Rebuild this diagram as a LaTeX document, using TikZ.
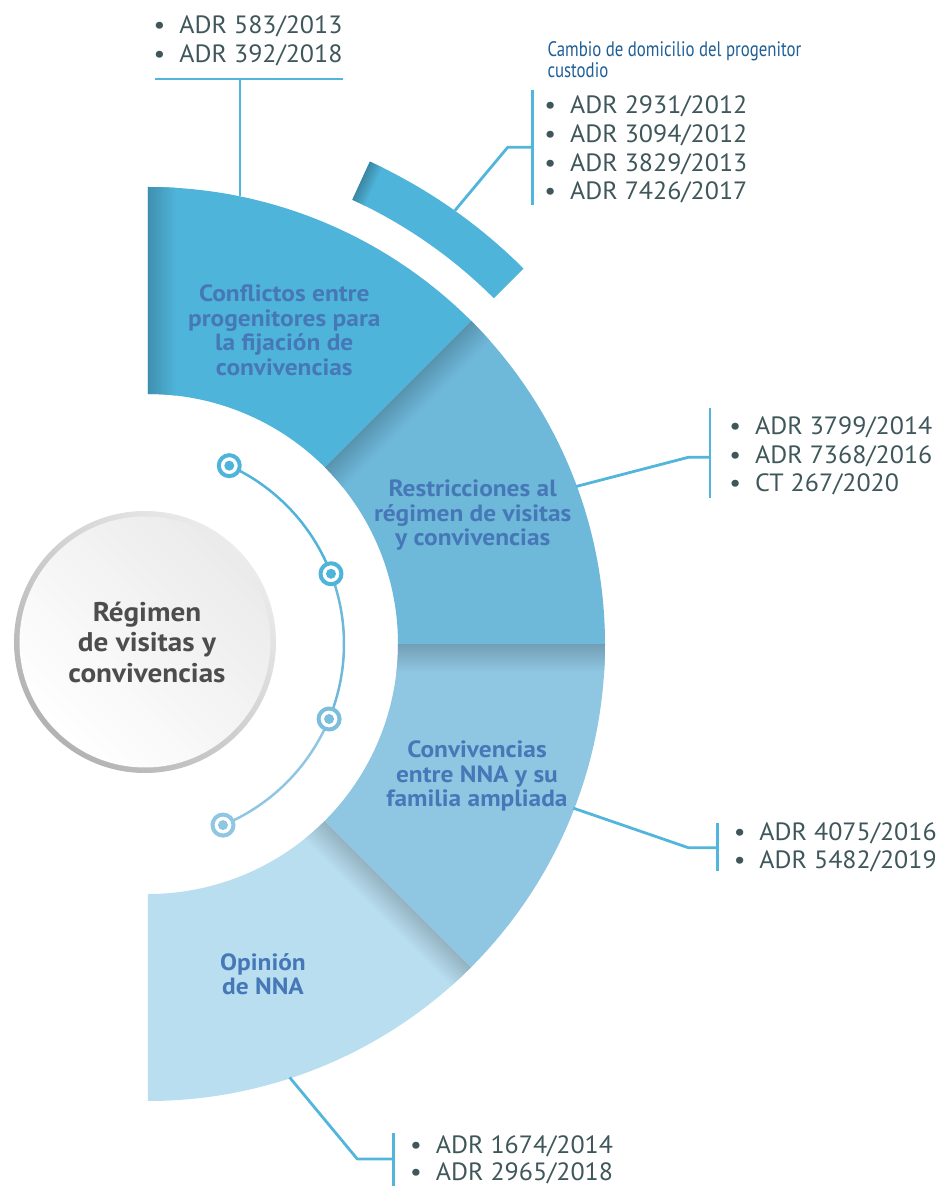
\documentclass[tikz,border=0pt]{standalone}
\usepackage{fontspec}
\setmainfont{PT Sans}[FakeStretch=1.04]
\newfontfamily\condensed[FakeStretch=0.8]{PT Sans}
\newfontfamily\widesans[FakeStretch=1.08]{PT Sans}
\usetikzlibrary{positioning}

\definecolor{blueA}{HTML}{4FB4DA}
\definecolor{blueB}{HTML}{6EB8DA}
\definecolor{blueC}{HTML}{8FC6E2}
\definecolor{blueD}{HTML}{B8DEF0}
\definecolor{labelblue}{HTML}{4678B8}
\definecolor{listgray}{HTML}{3F575B}
\definecolor{titleblue}{HTML}{1F5E96}
\definecolor{centergray}{HTML}{4D4D4D}
\definecolor{linkblue}{HTML}{52B5DB}

\newcommand{\bul}{\makebox[0pt][r]{\textbullet\hspace{14pt}}}

\begin{document}
\begin{tikzpicture}[x=1pt, y=1pt, line join=round]
	\tikzstyle{sector label}=[align=center, inner sep=0pt, text=labelblue,
		font=\widesans\bfseries\fontsize{23.5}{24.5}\selectfont]
	\tikzstyle{item}=[anchor=base west, inner sep=0pt, text=listgray,
		font=\fontsize{25}{28}\selectfont]
	\tikzstyle{link}=[draw=linkblue, line width=2.8pt]
	\tikzstyle{ring dot}=[circle, draw, fill=white, line width=4pt,
		minimum size=21pt, inner sep=0pt]
	\useasboundingbox (-148,-542) rectangle (787,644);

	% % Shapes
	% half ring, one sector per topic
	\foreach \a/\col in {90/blueA, 45/blueB, 0/blueC, -45/blueD} {
		\fill[\col] (\a:457) arc (\a:\a-45:457) -- (\a-45:250) arc (\a-45:\a:250) -- cycle;
		\begin{scope}
			\clip (\a:457) arc (\a:\a-45:457) -- (\a-45:250) arc (\a-45:\a:250) -- cycle;
			\begin{scope}[transform canvas={rotate=\a}]
				\shade[top color=\col!80!black, bottom color=\col] (240,-28) rectangle (470,0);
			\end{scope}
		\end{scope}
	}
	% thin outer band
	\fill[blueA] (65.3:531) arc (65.3:45:531) -- (45:489) arc (45:65.3:489) -- cycle;
	\begin{scope}
		\clip (65.3:531) arc (65.3:45:531) -- (45:489) arc (45:65.3:489) -- cycle;
		\begin{scope}[transform canvas={rotate=65.3}]
			\shade[top color=blueA!75!black, bottom color=blueA] (480,-14) rectangle (540,0);
		\end{scope}
	\end{scope}
	% inner arc with dots
	\draw[blueA, line width=2.5pt] (65.5:196) arc (65.5:21:196);
	\draw[blueB, line width=2.5pt] (21:196) arc (21:-22.5:196);
	\draw[blueC, line width=2.5pt] (-22.5:196) arc (-22.5:-67.5:196);
	\foreach \a/\col [count=\i] in {65.5/blueA, 21/blueA, -22.5/blueB!60!blueC, -67.5/blueC} {
		\node[ring dot, draw=\col] (dot\i) at (\a:196) {};
		\fill[\col] (dot\i) circle (5);
	}
	% centre disc
	\shade[top color=gray!15, bottom color=gray!60, shading angle=-45] (-3,2) circle (131);
	\shade[top color=gray!16, bottom color=white, shading angle=-45] (-3,2) circle (125.5);

	% % Nodes
	% centre
	\node[align=center, inner sep=0pt, text=centergray,
		font=\widesans\bfseries\fontsize{27}{30.5}\selectfont] (regimen) at (-1,2)
		{Régimen\\de visitas y\\convivencias};
	% sectors
	\node[sector label] (conflictos) at (136.3,313.5)
		{Conflictos entre\\progenitores para\\la fijación de\\convivencias};
	\node[sector label] (restricciones) at (324.7,128.5)
		{Restricciones al\\régimen de visitas\\y convivencias};
	\node[sector label] (ampliada) at (329,-132)
		{Convivencias\\entre NNA y su\\familia ampliada};
	\node[sector label] (opinion) at (115,-330)
		{Opinión\\de NNA};
	% band title
	\node[anchor=north west, inner sep=0pt, align=left, text=titleblue,
		font=\condensed\fontsize{21}{21.6}\selectfont] (cambio) at (399.3,603)
		{Cambio de domicilio del progenitor\\custodio};
	% lists
	\node[item] (top1) at (31.3,610.7) {\bul ADR 583/2013};
	\node[item] (top2) at (31.3,581) {\bul ADR 392/2018};
	\node[item] (band1) at (422,530.7) {\bul ADR 2931/2012};
	\node[item] (band2) at (422,501.8) {\bul ADR 3094/2012};
	\node[item] (band3) at (422,472.9) {\bul ADR 3829/2013};
	\node[item] (band4) at (422,444) {\bul ADR 7426/2017};
	\node[item] (restr1) at (607,209) {\bul ADR 3799/2014};
	\node[item] (restr2) at (607,180.7) {\bul ADR 7368/2016};
	\node[item] (restr3) at (607,152.3) {\bul CT 267/2020};
	\node[item] (ampl1) at (611.3,-196) {\bul ADR 4075/2016};
	\node[item] (ampl2) at (611.3,-224.3) {\bul ADR 5482/2019};
	\node[item] (opin1) at (287.7,-509.3) {\bul ADR 1674/2014};
	\node[item] (opin2) at (287.7,-536) {\bul ADR 2965/2018};

	% % Connectors
	\coordinate (topfoot) at (92,448);
	\coordinate (topjoin) at (92,565);
	\coordinate (topL) at (7,565);
	\coordinate (topR) at (195,565);
	\draw[link] (topfoot) -- (topjoin);
	\draw[link] (topL) -- (topR);

	\coordinate (bandtip) at (54.7:531);
	\coordinate (bandknee) at (359.7,496.7);
	\coordinate (bandjoin) at (384.3,496.7);
	\coordinate (bandtop) at (384.3,554);
	\coordinate (bandbot) at (384.3,439);
	\draw[link] (bandtip) -- (bandknee) -- (bandjoin);
	\draw[link] (bandtop) -- (bandbot);

	\coordinate (restrtip) at (20.2:456);
	\coordinate (restrknee) at (540.3,186.7);
	\coordinate (restrjoin) at (562,186.7);
	\coordinate (restrtop) at (562,235.7);
	\coordinate (restrbot) at (562,145.7);
	\draw[link] (restrtip) -- (restrknee) -- (restrjoin);
	\draw[link] (restrtop) -- (restrbot);

	\coordinate (ampltip) at (-21.1:456);
	\coordinate (amplknee) at (540.3,-203.7);
	\coordinate (ampljoin) at (569.3,-203.7);
	\coordinate (ampltop) at (569.3,-179.3);
	\coordinate (amplbot) at (569.3,-226.7);
	\draw[link] (ampltip) -- (amplknee) -- (ampljoin);
	\draw[link] (ampltop) -- (amplbot);

	\coordinate (opintip) at (-71.9:456);
	\coordinate (opinknee) at (209.3,-515);
	\coordinate (opinjoin) at (245.3,-515);
	\coordinate (opintop) at (245.3,-489.3);
	\coordinate (opinbot) at (245.3,-546);
	\draw[link] (opintip) -- (opinknee) -- (opinjoin);
	\draw[link] (opintop) -- (opinbot);
\end{tikzpicture}
\end{document}
